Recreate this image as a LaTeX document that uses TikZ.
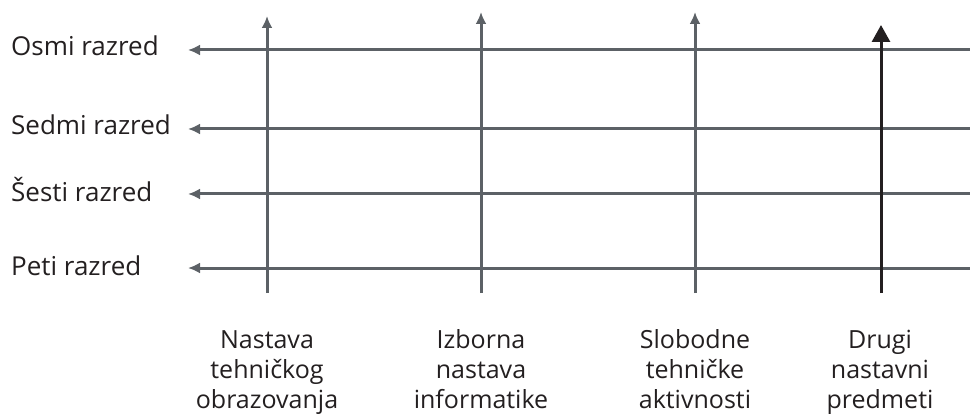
\documentclass[tikz,border=0pt]{standalone}
\usepackage{fontspec}
\setmainfont{Open Sans}
\usetikzlibrary{arrows.meta}
\definecolor{axisgray}{HTML}{5C6166}
\definecolor{inkdark}{HTML}{231F20}
\begin{document}
\begin{tikzpicture}[x=1pt,y=-1pt,
  gradeline/.style={draw=axisgray,line width=3pt,-{Latex[length=12pt,width=11pt]}},
  subjline/.style={draw=axisgray,line width=3pt,-{Latex[length=12pt,width=11pt]}},
  mainline/.style={draw=inkdark,line width=3pt,-{Triangle[length=17pt,width=18pt]}},
  gradelabel/.style={anchor=base west,inner sep=0pt,font=\fontsize{26}{30}\selectfont,text=inkdark},
  subjlabel/.style={anchor=base,inner sep=0pt,align=center,font=\fontsize{25}{30}\selectfont,text=inkdark}]
\useasboundingbox (0,0) rectangle (970,417);

% grade lines (right to left)
\coordinate (g8r) at (970,50);  \coordinate (g8l) at (188,50);
\coordinate (g7r) at (970,129); \coordinate (g7l) at (188,129);
\coordinate (g6r) at (970,194); \coordinate (g6l) at (188,194);
\coordinate (g5r) at (970,268); \coordinate (g5l) at (188,268);
\draw[gradeline] (g8r) -- (g8l);
\draw[gradeline] (g7r) -- (g7l);
\draw[gradeline] (g6r) -- (g6l);
\draw[gradeline] (g5r) -- (g5l);

\node[gradelabel] (l8) at (11,56) {Osmi razred};
\node[gradelabel] (l7) at (11,135) {Sedmi razred};
\node[gradelabel] (l6) at (11,201) {Šesti razred};
\node[gradelabel] (l5) at (11,275) {Peti razred};

% subject lines (bottom to top)
\coordinate (s1b) at (267,293); \coordinate (s1t) at (267,16);
\coordinate (s2b) at (481,293); \coordinate (s2t) at (481,12);
\coordinate (s3b) at (695,293); \coordinate (s3t) at (695,12);
\coordinate (s4b) at (881,293); \coordinate (s4t) at (881,25);
\draw[subjline] (s1b) -- (s1t);
\draw[subjline] (s2b) -- (s2t);
\draw[subjline] (s3b) -- (s3t);
\draw[mainline] (s4b) -- (s4t);

% subject names, anchored at the baseline of the last line
\node[subjlabel] (t1) at (267,408) {Nastava\\tehničkog\\obrazovanja};
\node[subjlabel] (t2) at (481,408) {Izborna\\nastava\\informatike};
\node[subjlabel] (t3) at (695,408) {Slobodne\\tehničke\\aktivnosti};
\node[subjlabel] (t4) at (880,408) {Drugi\\nastavni\\predmeti};
\end{tikzpicture}
\end{document}
